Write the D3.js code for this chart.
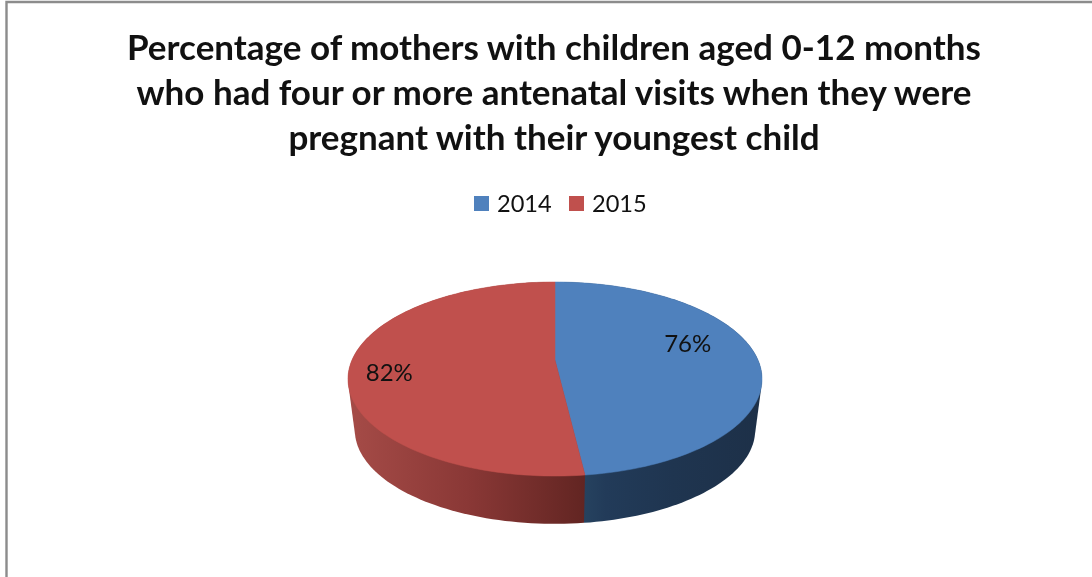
<!DOCTYPE html>
<html><head><meta charset="utf-8">
<script src="https://cdn.jsdelivr.net/npm/d3@7"></script>
<style>html,body{margin:0;padding:0;background:#fff;overflow:hidden}svg{display:block;filter:blur(0.35px)}text{font-family:Lato,"Open Sans",sans-serif;fill:#111}</style>
</head><body><div id="chart"></div>
<script>
const titleLines = ["Percentage of mothers with children aged 0-12 months","who had four or more antenatal visits when they were","pregnant with their youngest child"];
const years = ["2014","2015"];
const values = [76,82];
const labels = ["76%","82%"];
const colors = ["#4F81BD","#C0504D"];

const W=1092,H=577;
const svg=d3.select("#chart").append("svg").attr("width",W).attr("height",H);
svg.append("path").attr("d",`M6.5,${H}V2H${W}`).attr("fill","none").attr("stroke","#8c8c8c").attr("stroke-width",2.4);

svg.selectAll("text.title").data(titleLines).join("text").attr("class","title")
  .attr("x",554).attr("y",(d,i)=>60+i*45.2).attr("text-anchor","middle")
  .attr("font-size",35).attr("font-weight",700).text(d=>d);

// legend
const legendX=[474,569];
years.forEach((y,i)=>{
  svg.append("rect").attr("x",legendX[i]).attr("y",196).attr("width",15).attr("height",15).attr("fill",colors[i]);
  svg.append("text").attr("x",legendX[i]+23).attr("y",212).attr("font-size",23.6).text(y);
});

// perspective projection of the pie disc: a = clockwise angle from the far point
const cx=555, apexY=360, p=0.196, ky=93.3, sx=203, depth=48, baseScale=0.967;
function project(a,r=1){
  const u=r*Math.sin(a), v=-r*Math.cos(a), w=1-p*v;
  return [cx+sx*u/w, apexY+ky*v/w];
}
function projectBase(a){
  const [x,y]=project(a);
  return [cx+(x-cx)*baseScale, 379+depth+3+(y-379)*baseScale];
}
const pie=d3.pie().sort(null)(values);
const line=d3.line();
const arcAngles=d=>{const n=120;return d3.range(n+1).map(i=>d.startAngle+(d.endAngle-d.startAngle)*i/n);};

const defs=svg.append("defs");
const grads=[
  [[0,"#26425F"],[0.12,"#223B59"],[0.5,"#1F3550"],[1,"#1D3048"]],
  [[0,"#A54B47"],[0.5,"#8A3836"],[1,"#622522"]]
];
const gradRange=[[585,760],[350,585]];
grads.forEach((g,i)=>{
  const lg=defs.append("linearGradient").attr("id","wall"+i).attr("gradientUnits","userSpaceOnUse")
    .attr("x1",gradRange[i][0]).attr("x2",gradRange[i][1]).attr("y1",0).attr("y2",0);
  g.forEach(s=>lg.append("stop").attr("offset",s[0]).attr("stop-color",s[1]));
});

// walls: hull of top and base outlines, blue first so red's edge falls on the seam
svg.selectAll("path.wall").data(pie).join("path").attr("class","wall")
  .attr("fill",(d,i)=>`url(#wall${i})`)
  .attr("d",d=>{
    const as=arcAngles(d);
    return line(d3.polygonHull(as.map(a=>project(a)).concat(as.map(projectBase))))+"Z";
  });
// top face
svg.selectAll("path.top").data(pie).join("path").attr("class","top")
  .attr("fill",(d,i)=>colors[i]).attr("stroke",(d,i)=>colors[i]).attr("stroke-width",0.5)
  .attr("d",d=>line([[cx,apexY]].concat(arcAngles(d).map(a=>project(a))))+"Z");

// data labels
const labelR=[0.66,0.81], labelDy=[-12,8];
svg.selectAll("text.lab").data(pie).join("text").attr("class","lab")
  .attr("text-anchor","middle").attr("font-size",24)
  .attr("x",d=>project((d.startAngle+d.endAngle)/2,labelR[d.index])[0])
  .attr("y",d=>project((d.startAngle+d.endAngle)/2,labelR[d.index])[1]+labelDy[d.index]+8)
  .text((d,i)=>labels[i]);
</script></body></html>
